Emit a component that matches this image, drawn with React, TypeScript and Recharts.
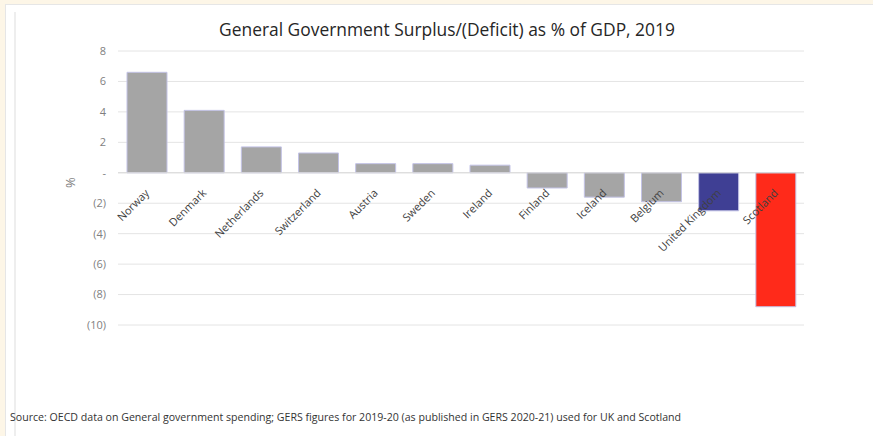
import React from 'react';
import { BarChart, Bar, XAxis, YAxis, CartesianGrid, Cell, LabelList, ReferenceLine } from 'recharts';

const countries = ['Norway', 'Denmark', 'Netherlands', 'Switzerland', 'Austria', 'Sweden', 'Ireland', 'Finland', 'Iceland', 'Belgium', 'United Kingdom', 'Scotland'];
const balances = [6.6, 4.1, 1.7, 1.3, 0.6, 0.6, 0.5, -1.0, -1.6, -1.9, -2.5, -8.8];
const barColors = ['#a5a5a5', '#a5a5a5', '#a5a5a5', '#a5a5a5', '#a5a5a5', '#a5a5a5', '#a5a5a5', '#a5a5a5', '#a5a5a5', '#a5a5a5', '#3f3f94', '#ff2a1a'];
const yTicks = [8, 6, 4, 2, 0, -2, -4, -6, -8, -10];

const title = 'General Government Surplus/(Deficit) as % of GDP, 2019';
const source = 'Source: OECD data on General government spending; GERS figures for 2019-20 (as published in GERS 2020-21) used for UK and Scotland';

const data = countries.map((c, i) => ({ country: c, value: balances[i] }));

const fmt = (v: number) => (v === 0 ? '-' : v < 0 ? `(${Math.abs(v)})` : `${v}`);

const FONT = '"Open Sans", "Noto Sans", sans-serif';

const CountryLabel = (props: any) => {
  const { x, y, width, height, value, index } = props;
  const xx = Number(x), yy = Number(y), w = Number(width), h = Number(height);
  const zero = value >= 0 || h < 0 ? yy + h : yy;
  const cx = xx + w / 2 + 3;
  const ty = zero + 21;
  return (
    <text
      x={cx}
      y={ty}
      textAnchor="end"
      transform={`rotate(-45, ${cx}, ${ty})`}
      fontSize={11}
      fontFamily={FONT}
      fill="#404040"
    >
      {countries[index]}
    </text>
  );
};

export default function App() {
  return (
    <div style={{ position: 'absolute', left: 0, top: 0, width: 873, height: 436, background: '#fdf6e7', overflow: 'hidden' }}>
      <div style={{ position: 'absolute', left: 5, top: 4, width: 868, height: 432, background: '#ffffff', borderLeft: '1px solid #e6e6e6', borderTop: '1px solid #e6e6e6' }} />
      <div style={{ position: 'absolute', left: 14, top: 12, width: 2, height: 424, background: '#eeeeee' }} />
      <div style={{ position: 'absolute', left: 0, top: 0 }}>
        <BarChart
          width={873}
          height={436}
          data={data}
          margin={{ top: 51, right: 69, bottom: 111, left: 60 }}
          barSize={40}
        >
          <text x={447} y={36} textAnchor="middle" fontSize={17.4} fontFamily={FONT} fill="#262626">
            {title}
          </text>
          <CartesianGrid vertical={false} stroke="#e4e4e4" />
          <XAxis dataKey="country" hide />
          <YAxis
            width={58}
            domain={[-10, 8]}
            ticks={yTicks}
            interval={0}
            tickFormatter={fmt}
            axisLine={false}
            tickLine={false}
            tickMargin={6}
            tick={{ fontSize: 11, fill: '#7f7f7f', fontFamily: FONT }}
            label={{ value: '%', angle: -90, position: 'insideLeft', offset: 10, fontSize: 13, fill: '#7f7f7f', fontFamily: FONT }}
          />
          <ReferenceLine y={0} stroke="#d9d9d9" />
          <Bar dataKey="value" isAnimationActive={false} stroke="#c3c3e6" strokeWidth={1}>
            {data.map((d, i) => (
              <Cell key={d.country} fill={barColors[i]} />
            ))}
            <LabelList dataKey="value" content={<CountryLabel />} />
          </Bar>
          <text x={10} y={421} fontSize={10.6} fontFamily={FONT} fill="#333333">
            {source}
          </text>
        </BarChart>
      </div>
    </div>
  );
}
